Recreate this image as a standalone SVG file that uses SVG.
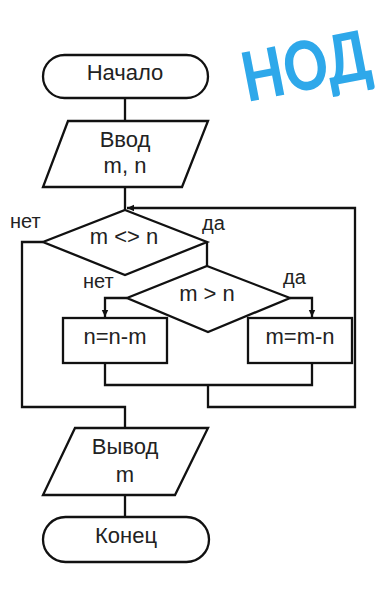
<svg xmlns="http://www.w3.org/2000/svg" width="384" height="600" viewBox="0 0 384 600">
<style>
.s{fill:none;stroke:#111;stroke-width:2.3;stroke-linejoin:miter}
.n{fill:#fff;stroke:#111;stroke-width:2.3}
.t{font-family:"Liberation Sans",Arial,sans-serif;font-size:22px;fill:#222;text-anchor:middle}
.l{font-family:"Liberation Sans",Arial,sans-serif;font-size:20px;fill:#222}
.h{font-family:"Lato","DejaVu Sans",sans-serif;font-weight:900;font-size:68px;fill:#2ea8ea}
</style>
<defs>
<marker id="a" markerUnits="userSpaceOnUse" markerWidth="8" markerHeight="8" refX="7" refY="4" orient="auto">
<path d="M0,0.8 L7,4 L0,7.2 Z" fill="#111"/>
</marker>
</defs>
<rect width="384" height="600" fill="#fff"/>
<text class="h" x="0" y="24" text-anchor="middle" transform="translate(306,66) rotate(-11) scale(0.8,1)">НОД</text>
<g id="connectors">
<path class="s" d="M125,98 V121"/>
<path class="s" d="M125,187 V210"/>
<path class="s" d="M43,242 H22 V407 H125 V428"/>
<path class="s" d="M207,242 V266"/>
<path class="s" d="M127,298 H105 V317" marker-end="url(#a)"/>
<path class="s" d="M290,298 H312 V317" marker-end="url(#a)"/>
<path class="s" d="M105,363 V385 H312 V363"/>
<path class="s" d="M208,385 V407 H355 V208 H127" marker-end="url(#a)"/>
<path class="s" d="M125,495 V517"/>
</g>
<g id="start">
<rect class="n" x="43" y="55" width="165" height="43" rx="21.5"/>
<text class="t" x="125" y="80">Начало</text>
</g>
<g id="input">
<polygon class="n" points="68,121 208,121 182,187 43,187"/>
<text class="t" x="125" y="147">Ввод</text>
<text class="t" x="125" y="173">m, n</text>
</g>
<g id="cond1">
<polygon class="n" points="125,210 207,242 125,275 43,242"/>
<text class="t" x="124" y="244">m &lt;&gt; n</text>
<text class="l" x="10" y="228">нет</text>
<text class="l" x="202" y="230">да</text>
</g>
<g id="cond2">
<polygon class="n" points="207,266 290,298 208,332 127,298"/>
<text class="t" x="207" y="301">m &gt; n</text>
<text class="l" x="83" y="288">нет</text>
<text class="l" x="283" y="284">да</text>
</g>
<g id="sub1">
<rect class="n" x="63" y="318" width="104" height="45"/>
<text class="t" x="115" y="344">n=n-m</text>
</g>
<g id="sub2">
<rect class="n" x="248" y="318" width="104" height="45"/>
<text class="t" x="300" y="344">m=m-n</text>
</g>
<g id="output">
<polygon class="n" points="75,428 208,428 175,495 43,495"/>
<text class="t" x="125" y="454">Вывод</text>
<text class="t" x="125" y="482">m</text>
</g>
<g id="end">
<rect class="n" x="43" y="517" width="166" height="45" rx="22.5"/>
<text class="t" x="126" y="543">Конец</text>
</g>
</svg>
